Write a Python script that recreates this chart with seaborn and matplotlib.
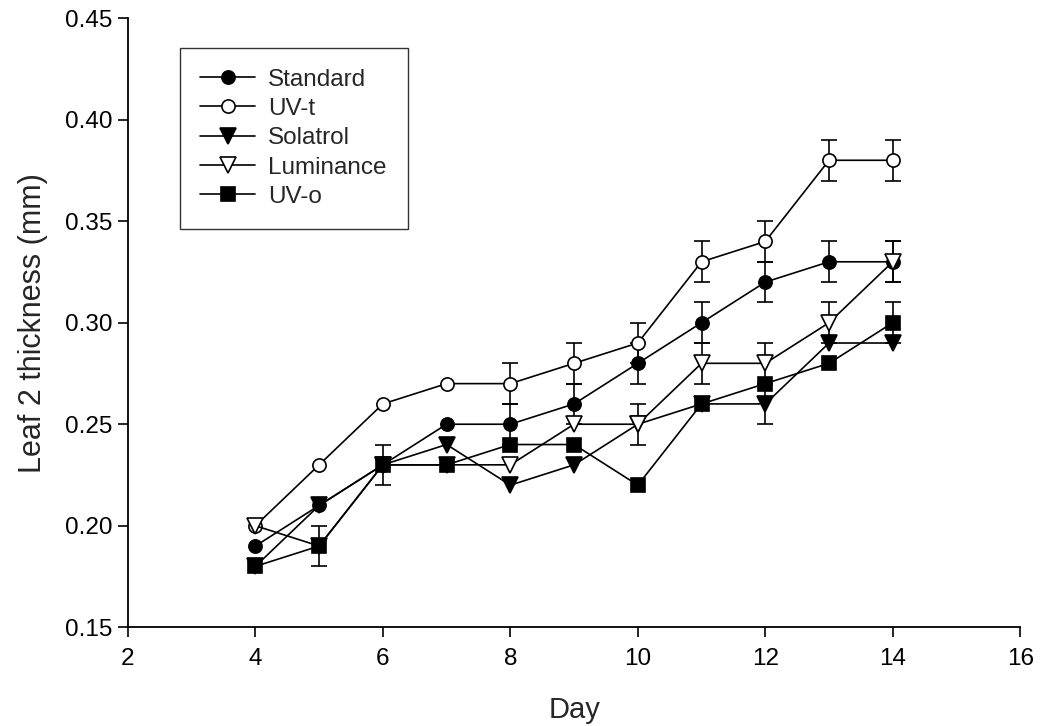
import numpy as np
import matplotlib
matplotlib.use("Agg")
import matplotlib.pyplot as plt
import seaborn as sns

days = [4, 5, 6, 7, 8, 9, 10, 11, 12, 13, 14]

standard = [0.19, 0.21, 0.23, 0.25, 0.25, 0.26, 0.28, 0.30, 0.32, 0.33, 0.33]
uv_t = [0.20, 0.23, 0.26, 0.27, 0.27, 0.28, 0.29, 0.33, 0.34, 0.38, 0.38]
solatrol = [0.18, 0.21, 0.23, 0.24, 0.22, 0.23, 0.25, 0.26, 0.26, 0.29, 0.29]
luminance = [0.20, 0.19, 0.23, 0.23, 0.23, 0.25, 0.25, 0.28, 0.28, 0.30, 0.33]
uv_o = [0.18, 0.19, 0.23, 0.23, 0.24, 0.24, 0.22, 0.26, 0.27, 0.28, 0.30]

# standard errors (0 = too small to show past the marker)
standard_se = [0, 0, 0, 0, 0.01, 0.01, 0.01, 0.01, 0.01, 0.01, 0.01]
uv_t_se = [0, 0, 0, 0, 0.01, 0.01, 0.01, 0.01, 0.01, 0.01, 0.01]
solatrol_se = [0, 0, 0, 0, 0, 0, 0, 0, 0.01, 0, 0]
luminance_se = [0, 0, 0, 0, 0, 0, 0.01, 0.01, 0.01, 0.01, 0.01]
uv_o_se = [0, 0.01, 0.01, 0, 0, 0, 0, 0, 0, 0, 0.01]

labels = ["Standard", "UV-t", "Solatrol", "Luminance", "UV-o"]
series = [standard, uv_t, solatrol, luminance, uv_o]
errors = [standard_se, uv_t_se, solatrol_se, luminance_se, uv_o_se]
markers = ["o", "o", "v", "v", "s"]
faces = ["black", "white", "black", "white", "black"]
sizes = [9.5, 9.5, 11, 11, 9.5]
layer = [2, 3, 1, 4, 5]  # Solatrol sits under Standard

sns.set_style("ticks")
plt.rcParams["font.family"] = ["Liberation Sans", "DejaVu Sans"]

fig = plt.figure(figsize=(10.4, 7.26), dpi=100)
ax = fig.add_axes([0.123, 0.136, 0.858, 0.839])

for i, (lab, vals, err) in enumerate(zip(labels, series, errors)):
    err = np.array(err, dtype=float)
    err[err == 0] = np.nan
    z = 2 * layer[i]
    ax.errorbar(days, vals, yerr=err, fmt="none", ecolor="black",
                elinewidth=1.2, capsize=6, capthick=1.2, zorder=z)
    sns.lineplot(x=days, y=vals, ax=ax, color="black", linewidth=1.2,
                 marker=markers[i], markersize=sizes[i],
                 markerfacecolor=faces[i], markeredgecolor="black",
                 markeredgewidth=1.2, label=lab, zorder=z + 1)

ax.set_xlim(2, 16)
ax.set_ylim(0.15, 0.45)
ax.set_xticks(range(2, 17, 2))
ax.set_yticks(np.arange(0.15, 0.451, 0.05))
ax.yaxis.set_major_formatter(matplotlib.ticker.FormatStrFormatter("%.2f"))
ax.tick_params(direction="out", length=7, width=1.2, labelsize=17.5,
               color="black", labelcolor="black")
ax.tick_params(axis="x", pad=8)
ax.tick_params(axis="y", pad=4)
sns.despine(ax=ax)
for s in ["left", "bottom"]:
    ax.spines[s].set_color("black")
    ax.spines[s].set_linewidth(1.3)

ax.set_xlabel("Day", fontsize=21, labelpad=19)
ax.set_ylabel("Leaf 2 thickness (mm)", fontsize=22, labelpad=12)

leg = ax.legend(loc="upper left", bbox_to_anchor=(0.058, 0.951),
                borderaxespad=0, fancybox=False, frameon=True,
                edgecolor="black", fontsize=17.5, markerscale=1.0,
                handlelength=2.25, labelspacing=0.3, borderpad=0.85,
                handletextpad=0.55)
leg.get_frame().set_linewidth(1.0)

fig.savefig("out.png", dpi=100)
